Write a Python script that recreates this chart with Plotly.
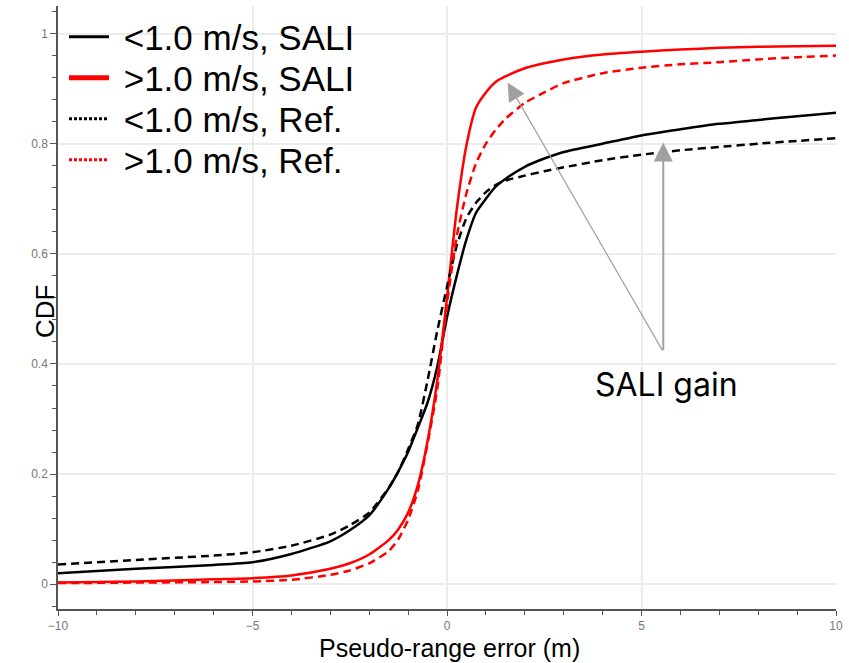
import plotly.graph_objects as go

# ---- data ----
x_err = [-10, -8, -6, -5, -4, -3, -2.5, -2, -1.5, -1.25, -1, -0.75, -0.5, -0.25,
         0, 0.25, 0.5, 0.75, 1, 1.25, 1.5, 2, 2.5, 3, 4, 5, 6, 7, 8, 9, 10]

cdf_slow_sali = [0.020, 0.028, 0.035, 0.040, 0.055, 0.078, 0.098, 0.125, 0.174, 0.205,
                 0.240, 0.284, 0.330, 0.395, 0.485, 0.560, 0.626, 0.675, 0.700, 0.722,
                 0.736, 0.758, 0.773, 0.785, 0.800, 0.815, 0.826, 0.836, 0.843, 0.850, 0.856]
cdf_fast_sali = [0.003, 0.005, 0.009, 0.011, 0.016, 0.028, 0.038, 0.054, 0.080, 0.100,
                 0.130, 0.180, 0.260, 0.370, 0.520, 0.680, 0.797, 0.866, 0.893, 0.912,
                 0.922, 0.937, 0.946, 0.953, 0.962, 0.967, 0.971, 0.974, 0.976, 0.977, 0.978]
cdf_slow_ref = [0.036, 0.044, 0.052, 0.058, 0.070, 0.090, 0.107, 0.130, 0.175, 0.205,
                0.245, 0.290, 0.370, 0.460, 0.540, 0.615, 0.665, 0.693, 0.712, 0.725,
                0.733, 0.742, 0.750, 0.757, 0.770, 0.780, 0.788, 0.794, 0.800, 0.805, 0.810]
cdf_fast_ref = [0.002, 0.003, 0.004, 0.005, 0.008, 0.017, 0.025, 0.038, 0.060, 0.082,
                0.117, 0.170, 0.255, 0.355, 0.510, 0.632, 0.710, 0.765, 0.800, 0.825,
                0.845, 0.874, 0.893, 0.910, 0.928, 0.938, 0.944, 0.948, 0.953, 0.957, 0.960]

series_names = ["<1.0 m/s, SALI", ">1.0 m/s, SALI", "<1.0 m/s, Ref.", ">1.0 m/s, Ref."]

x_ticks = [-10, -5, 0, 5, 10]
x_tick_text = ["\u221210", "\u22125", "0", "5", "10"]
y_ticks = [0, 0.2, 0.4, 0.6, 0.8, 1]
y_tick_text = ["0", "0.2", "0.4", "0.6", "0.8", "1"]

# arrow geometry (data coords)
arrow_tail = (5.56, 0.422)
arrow_heads = [(1.56, 0.911), (5.56, 0.802)]
arrow_widths = [1.2, 2.0]
arrow_sizes = [3.0, 1.9]
gain_label_pos = (5.64, 0.362)

# plot-area geometry in pixels (used to place legends / labels)
W, H = 849, 663
ML, MR, MT, MB = 58, 11, 6, 54
plot_w = W - ML - MR
plot_h = H - MT - MB
legend_rows_px = [37, 78, 119, 160]

fig = go.Figure()

curves = [
    (cdf_slow_sali, "black", "solid"),
    (cdf_fast_sali, "#ff0000", "solid"),
    (cdf_slow_ref, "black", "8px,5px"),
    (cdf_fast_ref, "#ff0000", "8px,5px"),
]
for (yv, col, dash), name in zip(curves, series_names):
    fig.add_trace(go.Scatter(x=x_err, y=yv, mode="lines", name=name, showlegend=False,
                             line=dict(color=col, width=2.5, dash=dash, shape="spline",
                                       smoothing=0.6)))

# legend-only entries (dotted style as in the reference legend), one legend per row
legend_styles = [("black", "solid", 3), ("#ff0000", "solid", 5),
                 ("black", "3px,2px", 3), ("#ff0000", "3px,2px", 3)]
legend_ids = ["legend", "legend2", "legend3", "legend4"]
for (col, dash, w), name, lid in zip(legend_styles, series_names, legend_ids):
    fig.add_trace(go.Scatter(x=[None], y=[None], mode="lines", name="\u00a0" + name,
                             legend=lid, line=dict(color=col, width=w, dash=dash)))

legend_font = dict(family="Liberation Sans, Arial", size=35, color="black")
legend_layouts = {}
for lid, py in zip(legend_ids, legend_rows_px):
    legend_layouts[lid] = dict(x=6 / plot_w, y=(H - MB - py) / plot_h, xanchor="left",
                               yanchor="middle", bgcolor="rgba(0,0,0,0)", font=legend_font,
                               itemwidth=40)

# white panel behind the legend area (hides gridlines there, as in the reference)
fig.add_shape(type="rect", xref="paper", yref="paper", layer="between",
              x0=0, x1=(420 - ML) / plot_w, y0=(H - MB - 195) / plot_h, y1=1,
              fillcolor="white", line=dict(width=0))

for (hx, hy), aw, asz in zip(arrow_heads, arrow_widths, arrow_sizes):
    fig.add_annotation(x=hx, y=hy, ax=arrow_tail[0], ay=arrow_tail[1],
                       xref="x", yref="y", axref="x", ayref="y", text="",
                       showarrow=True, arrowhead=2, arrowsize=asz, arrowwidth=aw,
                       arrowcolor="#a0a0a0")

fig.add_annotation(x=gain_label_pos[0], y=gain_label_pos[1], xref="x", yref="y",
                   text="SALI gain", showarrow=False,
                   font=dict(family="Inter, Noto Sans", size=32, color="black"))

fig.add_annotation(x=-13 / plot_w, y=(H - MB - 312) / plot_h, xref="paper", yref="paper",
                   text="CDF", textangle=-90, showarrow=False, xanchor="center",
                   yanchor="middle",
                   font=dict(family="Liberation Sans, Arial", size=26, color="black"))

fig.add_annotation(x=(451 - ML) / plot_w, y=(H - MB - 648) / plot_h, xref="paper", yref="paper",
                   text="Pseudo-range error (m)", showarrow=False, xanchor="center",
                   yanchor="middle", borderpad=0,
                   font=dict(family="Liberation Sans, Arial", size=25, color="black"))

axis_common = dict(showline=True, linecolor="#555555", linewidth=1.5,
                   showgrid=True, gridcolor="#ececec", gridwidth=1.5,
                   zeroline=False, ticks="outside", tickcolor="#555555",
                   tickfont=dict(family="Liberation Sans, Arial", size=12, color="#777777"))

fig.update_layout(
    width=W, height=H,
    margin=dict(l=ML, r=MR, t=MT, b=MB),
    paper_bgcolor="white", plot_bgcolor="white",
    showlegend=True,
    xaxis=dict(range=[-10, 10], tickvals=x_ticks, ticktext=x_tick_text, ticklen=5,
               minor=dict(dtick=1, ticks="outside", ticklen=4, tickcolor="#555555", showgrid=False),
               **axis_common),
    yaxis=dict(range=[-0.045, 1.05], tickvals=y_ticks, ticktext=y_tick_text, ticklen=6,
               minor=dict(dtick=0.04, tick0=0, ticks="outside", ticklen=4, tickcolor="#555555",
                          showgrid=False),
               **axis_common),
    **legend_layouts,
)

fig.write_html("out.html")
